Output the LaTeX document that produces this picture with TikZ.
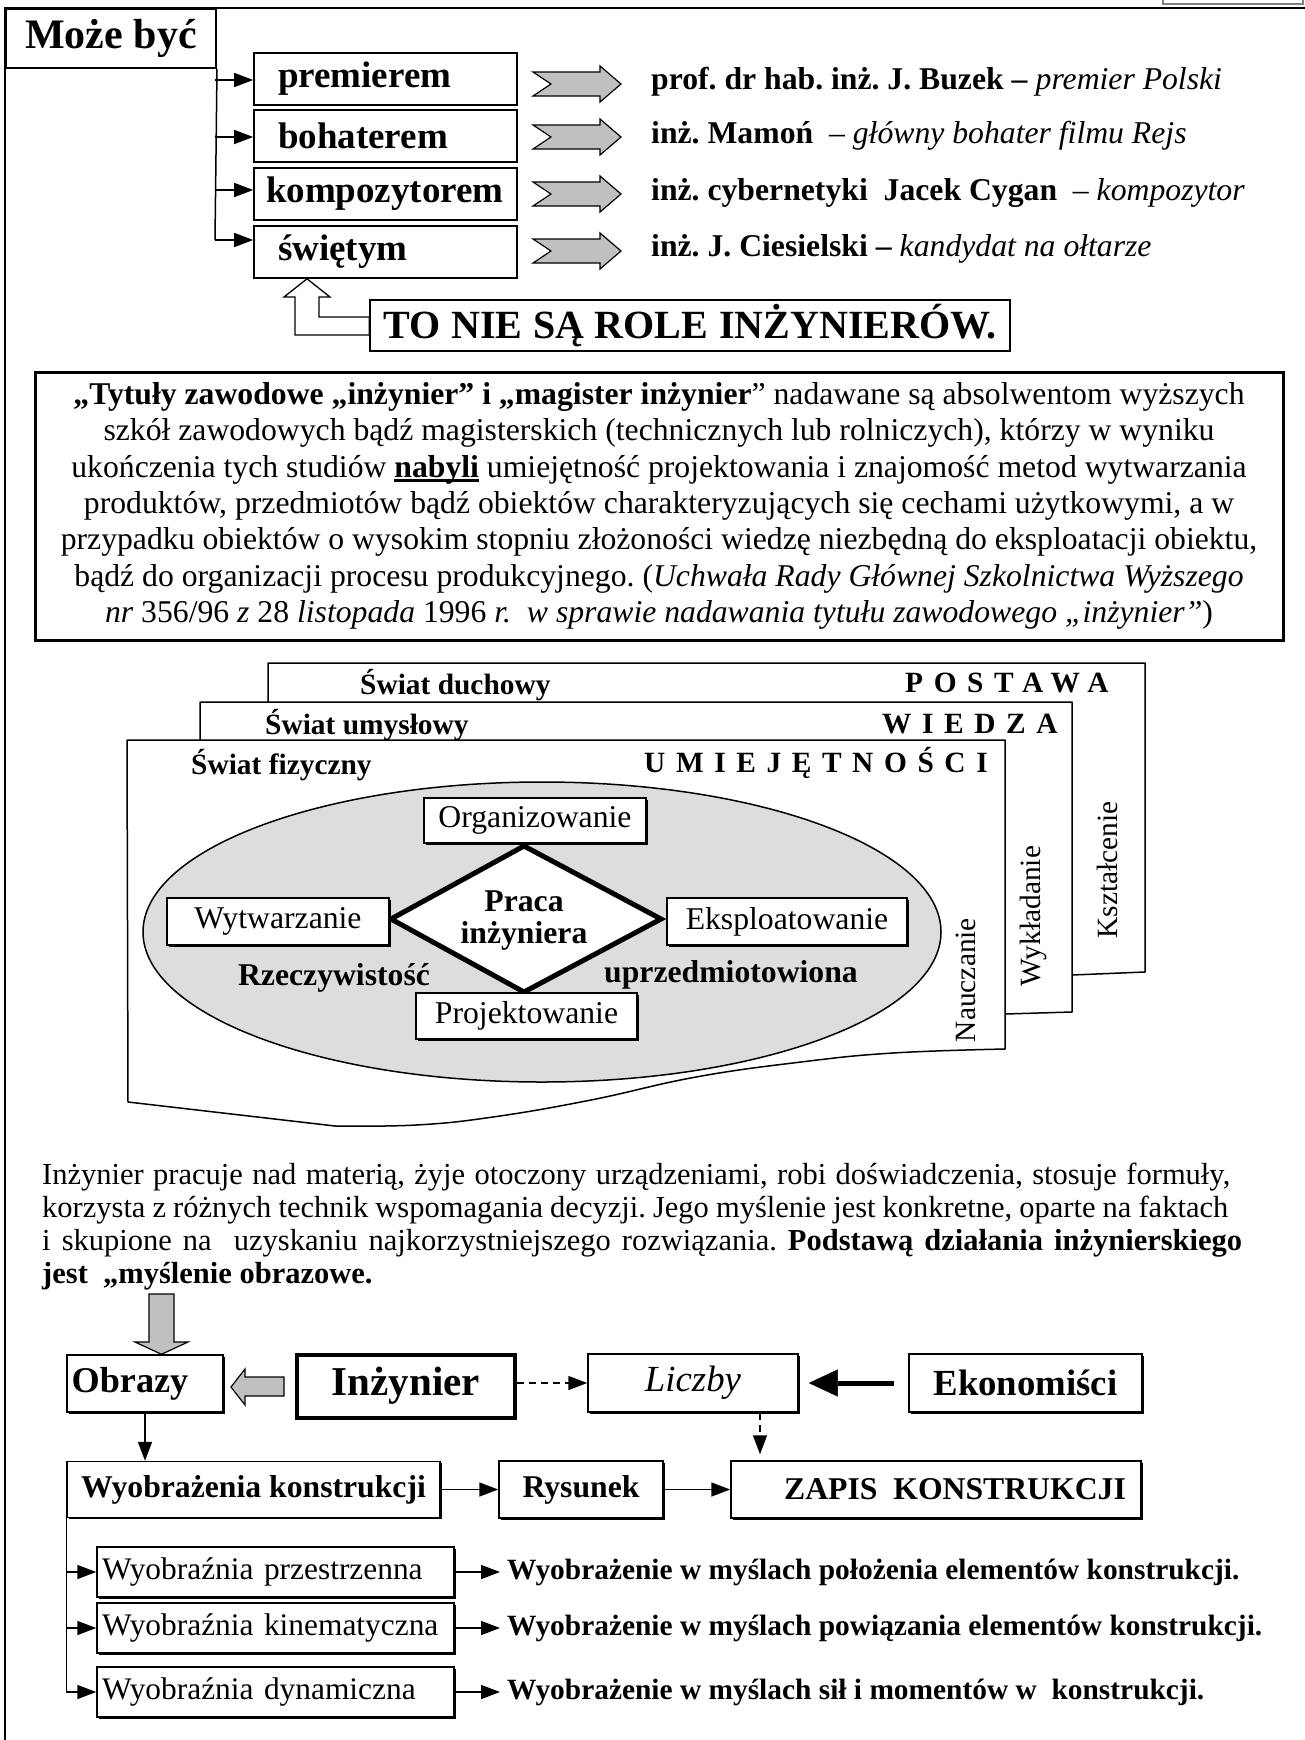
\documentclass[tikz,border=0pt]{standalone}
\usepackage{fontspec}
\setmainfont{Liberation Serif}
\newfontfamily\spacedfont[LetterSpace=36]{Liberation Serif}
\usetikzlibrary{arrows.meta,shadows,calc}
\definecolor{garr}{RGB}{192,192,192}
\definecolor{ellg}{RGB}{221,221,221}
\newcommand\fs[2]{\fontsize{#1}{#2}\selectfont}
\newcommand\ulthick[1]{\setbox0=\hbox{#1}\rlap{\rule[-5pt]{\wd0}{3pt}}\box0{}}
\frenchspacing
\begin{document}
\frenchspacing
\begin{tikzpicture}[x=1pt,y=-1pt,
  box/.style={draw, line width=1.6pt, fill=white, inner sep=0pt},
  shad/.style={drop shadow={shadow xshift=1.5pt, shadow yshift=-1.5pt, fill=black, opacity=1}},
  role/.style={box, minimum height=52pt, inner xsep=24pt, text width=215pt, align=left, font=\fs{37}{40}\bfseries},
  arr/.style={line width=1.5pt, -{Triangle[length=19pt,width=14pt]}},
  dashpat/.style={dash pattern=on 7pt off 5pt},
  rt/.style={anchor=west, inner sep=0pt, font=\fs{31.7}{34}},
  page/.style={draw, line width=1.5pt, fill=white, line join=round},
  dbox/.style={box, shad, line width=1.3pt, font=\fs{31.7}{34}},
  plab/.style={anchor=west, inner sep=0pt, font=\fs{29.4}{32}\bfseries},
  slab/.style={anchor=west, inner sep=0pt, font=\fs{29.4}{32}\spacedfont\bfseries},
  vlab/.style={rotate=90, inner sep=0pt, font=\fs{29.4}{32}},
  bt/.style={inner sep=0pt, font=\fs{31.7}{34}\bfseries},
  bodyl/.style={anchor=base west, inner sep=0pt, font=\fs{30.5}{34}},
  fbox/.style={box, shad, line width=1.5pt},
  wbox/.style={box, shad, line width=1.5pt, minimum height=50pt, inner xsep=5pt, text width=347pt, align=left, font=\fs{31.4}{34}},
  rtext/.style={anchor=west, inner xsep=7pt, inner ysep=0pt, font=\fs{29.4}{32}\bfseries},
  garrow/.pic={\draw[line width=1.2pt, fill=garr, line join=miter] (-44,-12) -- (-26,0) -- (-44,12) -- (23,12) -- (23,18) -- (44,0) -- (23,-18) -- (23,-12) -- cycle;}
]
\useasboundingbox (0,0) rectangle (1305,1740);
\fill[white] (0,0) rectangle (1305,1740);

% frame
\draw[line width=2.5pt] (5,1740) -- (5,8) -- (1305,8);
\draw[gray, line width=1.5pt] (1163,0) -- (1163,4) -- (1303,4) -- (1303,0);

% ---------- top section ----------
\node[box, line width=2pt, anchor=north west, minimum width=210pt, minimum height=59pt, font=\fs{42}{46}\bfseries] (moze) at (5,8) {Może być};

\node[role] (premierem) at (385.5,79) {premierem};
\node[role] (bohaterem) at (385.5,136) {bohaterem};
\node[role, inner xsep=12pt, text width=239pt] (kompozytorem) at (385.5,194) {kompozytorem};
\node[role] (swietym) at (385.5,252) {świętym};

\draw[line width=1.5pt] (moze.south east) -- (215,240);
\foreach \n/\y in {premierem/80, bohaterem/137, kompozytorem/190, swietym/240}
  \draw[arr] (215,\y) -- (\n.west |- 215,\y);

\pic at (577,84) {garrow};
\pic at (577,137) {garrow};
\pic at (577,194) {garrow};
\pic at (577,251) {garrow};

\node[rt] (r1) at (651,82) {\textbf{prof. dr hab. inż. J. Buzek –} \textit{premier Polski}};
\node[rt] (r2) at (651,136) {\textbf{inż. Mamoń}\ \ – \textit{główny bohater filmu Rejs}};
\node[rt] (r3) at (651,193) {\textbf{inż. cybernetyki\ \ Jacek Cygan}\ \ – \textit{kompozytor}};
\node[rt] (r4) at (651,249) {\textbf{inż. J. Ciesielski –} \textit{kandydat na ołtarze}};

\node[box, minimum width=640pt, minimum height=51pt, font=\fs{40}{44}\bfseries] (nie) at (690,325.5) {TO\hspace{0.27em}NIE\hspace{0.27em}SĄ\hspace{0.27em}ROLE\hspace{0.27em}INŻYNIERÓW.};

\draw[line width=1.3pt, fill=white, line join=miter] (swietym.south -| 307,0) -- (330,297) -- (319,297) -- (319,317) -- (nie.west |- 0,317) -- (nie.west |- 0,335) -- (295,335) -- (295,297) -- (284,297) -- cycle;

% ---------- definition ----------
\node[draw, line width=3pt, minimum width=1248pt, minimum height=268pt, inner sep=0pt, align=center, font=\fs{31.7}{36.3}] (def) at (659,506) {\textbf{„Tytuły zawodowe „inżynier” i „magister inżynier}” nadawane są absolwentom wyższych\\
szkół zawodowych bądź magisterskich (technicznych lub rolniczych), którzy w wyniku\\
ukończenia tych studiów \ulthick{\textbf{nabyli}} umiejętność projektowania i znajomość metod wytwarzania\\
produktów, przedmiotów bądź obiektów charakteryzujących się cechami użytkowymi, a w\\
przypadku obiektów o wysokim stopniu złożoności wiedzę niezbędną do eksploatacji obiektu,\\
bądź do organizacji procesu produkcyjnego. (\textit{Uchwała Rady Głównej Szkolnictwa Wyższego}\\
\textit{nr} 356/96 \textit{z} 28 \textit{listopada} 1996 \textit{r.\ \ w sprawie nadawania tytułu zawodowego „inżynier”})};

% ---------- layered pages ----------
\draw[page] (268,663) -- (1145,663) -- (1145,972) -- (1072,975) -- (268,985) -- cycle;
\draw[page] (200,702) -- (1072,702) -- (1072,1012) -- (1005,1014) -- (200,1030) -- cycle;
\draw[page] (127,740) -- (1005,740) -- (1005,1049) -- plot[smooth, tension=0.7] coordinates {(1005,1049) (893,1053) (801,1062) (696,1077) (591,1100) (493,1117) (416,1125) (335,1126)} -- (128,1102) -- cycle;

\node[plab] (sd) at (360,685) {Świat duchowy};
\node[slab] (postawa) at (905,683) {POSTAWA};
\node[plab] (su) at (265,725) {Świat umysłowy};
\node[slab] (wiedza) at (882,724) {WIEDZA};
\node[plab] (sf) at (191,765) {Świat fizyczny};
\node[slab] (umiej) at (644,763) {UMIEJĘTNOŚCI};

\node[vlab] (naucz) at (966,980) {Nauczanie};
\node[vlab] (wykl) at (1033,916) {Wykładanie};
\node[vlab] (kszt) at (1107,870) {Kształcenie};

\draw[line width=1.5pt, fill=ellg] (542,932) ellipse [x radius=399pt, y radius=150pt];

\coordinate (dT) at (524,846);
\coordinate (dR) at (661,919);
\coordinate (dB) at (524,992);
\coordinate (dL) at (391,919);
\draw[line width=5pt, line join=miter, fill=white] (dT) -- (dR) -- (dB) -- (dL) -- cycle;
\node[align=center, inner sep=0pt, font=\fs{31.7}{32}\bfseries] (praca) at (524,921) {Praca\\inżyniera};

\node[dbox, minimum width=222pt, minimum height=45pt] (org) at (535,820.5) {Organizowanie};
\node[dbox, minimum width=222pt, minimum height=47pt] (wyt) at (278,921.5) {Wytwarzanie};
\node[dbox, minimum width=240pt, minimum height=47pt] (eks) at (787,921.5) {Eksploatowanie};
\node[dbox, minimum width=221pt, minimum height=46pt] (proj) at (526.5,1016) {Projektowanie};

\node[bt] (rz) at (334,978) {Rzeczywistość};
\node[bt] (upr) at (731,975) {uprzedmiotowiona};

% ---------- body text ----------
\node[bodyl] (b1) at (42,1184) {\makebox[1188pt][s]{Inżynier pracuje nad materią, żyje otoczony urządzeniami, robi doświadczenia, stosuje formuły,}};
\node[bodyl] (b2) at (42,1217) {\makebox[1186pt][s]{korzysta z różnych technik wspomagania decyzji. Jego myślenie jest konkretne, oparte na faktach}};
\node[bodyl] (b3) at (42,1250) {\makebox[1200pt][s]{i skupione na\ \ uzyskaniu najkorzystniejszego rozwiązania. \textbf{Podstawą działania inżynierskiego}}};
\node[bodyl] (b4) at (42,1283) {\textbf{jest\ \ „myślenie obrazowe.}};

% ---------- bottom flow ----------
\node[fbox, minimum width=156pt, minimum height=57pt, font=\fs{36.2}{38}\bfseries] (obrazy) at (145,1383.5) {Obrazy\hspace*{30pt}};
\node[fbox, line width=4pt, minimum width=218pt, minimum height=63pt, font=\fs{41}{44}\bfseries] (inz) at (406,1386) {Inżynier};
\node[fbox, minimum width=210pt, minimum height=58pt, font=\fs{36.8}{40}\itshape] (liczby) at (693,1383) {Liczby};
\node[fbox, minimum width=233pt, minimum height=58pt, font=\fs{36.8}{40}\bfseries] (ekon) at (1025.5,1383) {Ekonomiści};

\node[fbox, minimum width=373pt, minimum height=56pt, font=\fs{31.7}{34}\bfseries] (wyob) at (253.5,1489.5) {Wyobrażenia konstrukcji};
\node[fbox, minimum width=164pt, minimum height=57pt, font=\fs{31.7}{34}\bfseries] (rys) at (581,1489.5) {Rysunek};
\node[fbox, minimum width=410pt, minimum height=57pt, font=\fs{31.7}{34}\bfseries] (zapis) at (936,1489.5) {\hspace*{38pt}ZAPIS\ \ KONSTRUKCJI};

\node[wbox] (w1) at (275.5,1572) {Wyobraźnia przestrzenna};
\node[wbox] (w2) at (275.5,1628) {Wyobraźnia kinematyczna};
\node[wbox] (w3) at (275.5,1692) {Wyobraźnia dynamiczna};

\node[rtext] (t1) at (500,1572) {Wyobrażenie w myślach położenia elementów konstrukcji.};
\node[rtext] (t2) at (500,1628) {Wyobrażenie w myślach powiązania elementów konstrukcji.};
\node[rtext] (t3) at (500,1692) {Wyobrażenie w myślach sił i momentów w\ \ konstrukcji.};

% gray block arrows
\draw[line width=1.2pt, fill=garr, line join=miter] (149,1294) -- (174,1294) -- (174,1342) -- (188,1342) -- (obrazy.north -| 161.5,0) -- (135,1342) -- (149,1342) -- cycle;
\draw[line width=1.2pt, fill=garr, line join=miter] (231,1387) -- (245,1369) -- (245,1377) -- (284,1377) -- (284,1396) -- (245,1396) -- (245,1405) -- cycle;

% connectors
\draw[arr] (obrazy.south) -- (wyob.north -| obrazy.south);
\draw[arr, dashpat] (inz.east |- 0,1383) -- (liczby.west |- 0,1383);
\draw[line width=5pt, -{Triangle[length=29pt,width=27pt,line width=0.5pt]}, shorten <=14pt, shorten >=10pt] (ekon) -- (liczby);
\draw[arr, dashpat, shorten >=6pt] (liczby.south -| 760,0) -- (zapis.north -| 760,0);
\draw[arr] (wyob) -- (rys);
\draw[arr] (rys) -- (zapis);

\draw[line width=1.5pt] (wyob.south west) -- (wyob.south west |- w3.west);
\foreach \w in {w1,w2,w3}
  \draw[arr] (wyob.south west |- \w.west) -- (\w.west);
\draw[arr] (w1) -- (t1);
\draw[arr] (w2) -- (t2);
\draw[arr] (w3) -- (t3);
\end{tikzpicture}
\end{document}
